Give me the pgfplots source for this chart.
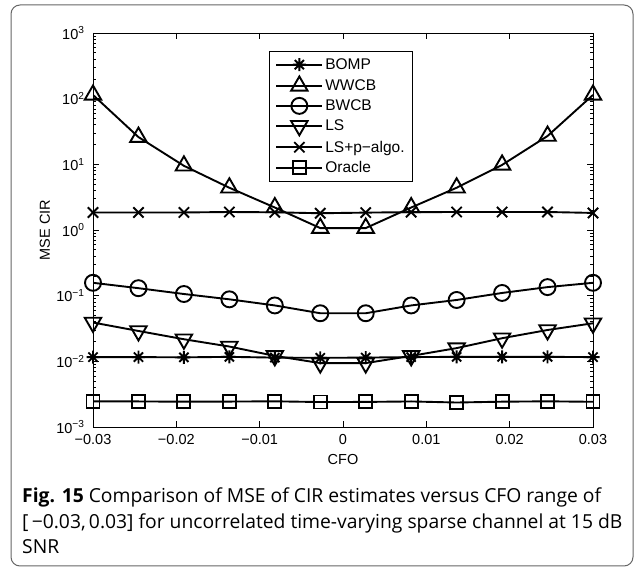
\documentclass[border=0pt]{standalone}
\usepackage{fontspec}
\setmainfont{Liberation Sans}
\newfontfamily\capfont{Open Sans}
\usepackage{pgfplots}
\pgfplotsset{compat=1.18}
\pgfdeclareplotmark{matstar}{%
 \pgfpathmoveto{\pgfqpoint{-\pgfplotmarksize}{0pt}}\pgfpathlineto{\pgfqpoint{\pgfplotmarksize}{0pt}}%
 \pgfpathmoveto{\pgfqpoint{0pt}{-\pgfplotmarksize}}\pgfpathlineto{\pgfqpoint{0pt}{\pgfplotmarksize}}%
 \pgfpathmoveto{\pgfqpoint{-0.707\pgfplotmarksize}{-0.707\pgfplotmarksize}}\pgfpathlineto{\pgfqpoint{0.707\pgfplotmarksize}{0.707\pgfplotmarksize}}%
 \pgfpathmoveto{\pgfqpoint{-0.707\pgfplotmarksize}{0.707\pgfplotmarksize}}\pgfpathlineto{\pgfqpoint{0.707\pgfplotmarksize}{-0.707\pgfplotmarksize}}%
 \pgfusepathqstroke}
\newcommand\tp[1]{10\textsuperscript{#1}}
\pgfplotstableread{
x        bomp    wwcb   bwcb   ls      lsp   oracle
-0.03    0.0116  114    0.157  0.039   1.85  0.00245
-0.024545 0.0116 26     0.130  0.029   1.85  0.00245
-0.019091 0.0115 9.5    0.106  0.0217  1.85  0.00243
-0.013636 0.0117 4.4    0.088  0.0168  1.88  0.00244
-0.008182 0.0114 2.2    0.071  0.0121  1.86  0.00246
-0.002727 0.0113 1.07   0.054  0.0094  1.80  0.00240
0.002727  0.0114 1.07   0.054  0.0094  1.84  0.00241
0.008182  0.0116 2.2    0.071  0.0121  1.87  0.00245
0.013636  0.0117 4.4    0.086  0.0159  1.88  0.00236
0.019091  0.0117 9.8    0.110  0.0225  1.88  0.00243
0.024545  0.0117 27     0.135  0.030   1.88  0.00246
0.03      0.0116 114    0.157  0.038   1.82  0.00242
}\data
\begin{document}
\begin{tikzpicture}[pl/.style={black, solid, line width=1.9pt, mark options={solid, fill=none, line width=1.9pt}}]
\path[use as bounding box] (0pt,0pt) rectangle (635pt,568pt);
\draw[gray!80!black, line width=1pt, rounded corners=9pt] (11pt,2pt) rectangle (633pt,563pt);
\begin{axis}[
  at={(93pt,141pt)}, anchor=south west,
  scale only axis, width=500pt, height=394pt,
  xmin=-0.03, xmax=0.03, ymode=log, ymin=1e-3, ymax=1e3,
  scaled x ticks=false,
  xtick={-0.03,-0.02,-0.01,0,0.01,0.02,0.03},
  xticklabels={−0.03,−0.02,−0.01,0,0.01,0.02,0.03},
  ytick={1e-3,1e-2,1e-1,1,1e1,1e2,1e3},
  yticklabels={\tp{−3},\tp{−2},\tp{−1},\tp{0},\tp{1},\tp{2},\tp{3}},
  tick align=inside, major tick length=6pt, minor tick length=3pt,
  every tick/.style={black, line width=0.6pt},
  axis line style={line width=0.9pt},
  ticklabel style={font=\fontsize{14.5}{16}\selectfont},
  xticklabel style={yshift=-4pt},
  yticklabel style={xshift=-5pt},
  xlabel={CFO}, ylabel={MSE CIR},
  label style={font=\fontsize{14.5}{16}\selectfont},
  xlabel style={at={(axis description cs:0.5,-0.083)}, anchor=center},
  ylabel style={at={(axis description cs:-0.096,0.5)}, anchor=center},
  legend style={at={(0.352,0.954)}, anchor=north west, draw=black, line width=0.8pt,
    font=\fontsize{15.5}{17}\selectfont, inner xsep=6pt, inner ysep=5pt,
    row sep=3.6pt, cells={anchor=west}},
  legend image code/.code={\draw[mark repeat=2,mark phase=2,#1] plot coordinates {(0pt,0pt) (23pt,0pt) (46pt,0pt)};},
]
\addplot[pl, mark=matstar, mark size=6.5pt] table[x=x,y=bomp] {\data};
\addlegendentry{BOMP}
\addplot[pl, mark=triangle, mark size=9.5pt] table[x=x,y=wwcb] {\data};
\addlegendentry{WWCB}
\addplot[pl, mark=o, mark size=8pt] table[x=x,y=bwcb] {\data};
\addlegendentry{BWCB}
\addplot[pl, mark=triangle, mark size=9.5pt, mark options={rotate=180}] table[x=x,y=ls] {\data};
\addlegendentry{LS}
\addplot[pl, mark=x, mark size=7.3pt] table[x=x,y=lsp] {\data};
\addlegendentry{LS+p−algo.}
\addplot[pl, mark=square, mark size=6.5pt] table[x=x,y=oracle] {\data};
\addlegendentry{Oracle}
\end{axis}
\node[anchor=base west, align=left, inner sep=0pt, font=\capfont\fontsize{19.3}{25.5}\selectfont] at (22pt,14pt)
 {\textbf{Fig. 15} Comparison of MSE of CIR estimates versus CFO range of\\
 {[}\,−0.03,\,0.03] for uncorrelated time-varying sparse channel at 15 dB\\
 SNR};
\end{tikzpicture}
\end{document}
